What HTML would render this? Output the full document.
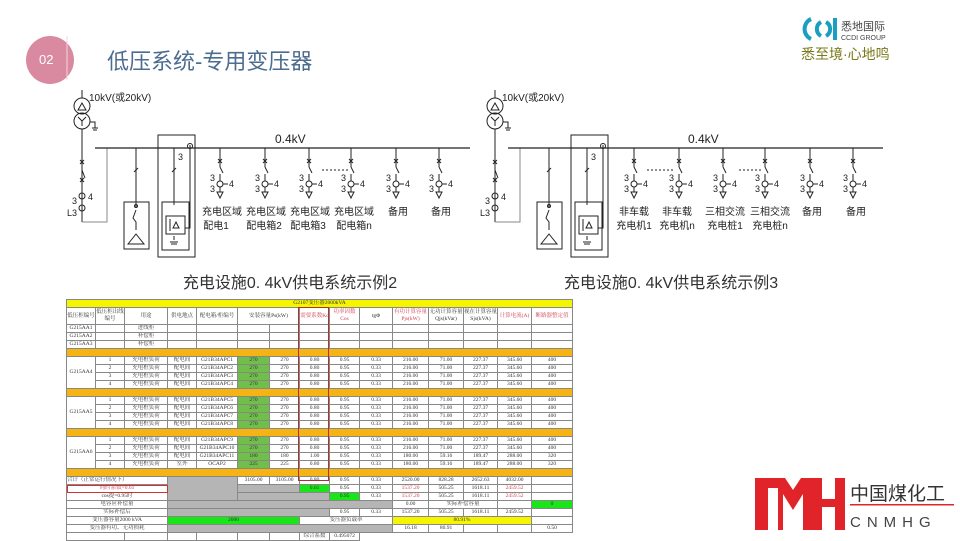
<!DOCTYPE html>
<html><head><meta charset="utf-8">
<style>
body{margin:0;width:960px;height:540px;overflow:hidden;background:#fff;position:relative;font-family:"Liberation Sans","Noto Sans CJK SC",sans-serif}
svg{position:absolute;left:0;top:0}
table{position:absolute;left:66px;top:299px;border-collapse:collapse;table-layout:fixed;font-family:"Liberation Serif","Noto Serif CJK SC",serif;font-size:5.5px;color:#333}
td{border:0.6px solid #888;height:7px;padding:0;line-height:7px;text-align:center;white-space:nowrap;overflow:hidden}
.o td{background:#f5b414;height:7px}
.g{background:#6fbf4a}
.gg{background:#19e619}
.gr{background:#b5b5b5}
.y{background:#f5f500}
.r{color:#d04050}
.hd td{height:16px;line-height:7px;white-space:normal}
</style></head><body>
<svg width="960" height="540" viewBox="0 0 960 540">
<defs>
<g id="fd" fill="none" stroke="#222" stroke-width="1">
<line x1="0" y1="0" x2="0" y2="19"/>
<path d="M-2 11l4 4M2 11l-4 4"/>
<line x1="0" y1="19" x2="3" y2="25"/>
<line x1="0" y1="26" x2="0" y2="33"/>
<circle cx="0" cy="36" r="3"/>
<line x1="0" y1="39" x2="0" y2="44"/>
<line x1="3" y1="36" x2="8" y2="36"/>
<path d="M-3 44h6l-3 6z"/>
</g>
<g id="inc" fill="none" stroke="#222" stroke-width="1">
<line x1="82" y1="90" x2="82" y2="98"/>
<circle cx="82" cy="106" r="8"/>
<path d="M78 110l4-7 4 7z"/>
<circle cx="82" cy="121" r="8"/>
<path d="M82 121l-4-4M82 121l4-4M82 121v5"/>
<path d="M90 122h5v6M92 128h6M93 130h4"/>
<line x1="82" y1="129" x2="82" y2="222"/>
<path d="M80 160l4 4M84 160l-4 4M82 170l3 8M80 178l4 4M84 178l-4 4"/>
<circle cx="82" cy="196" r="3"/><circle cx="82" cy="208" r="3"/>
<polyline points="82,222 107,222 107,148" stroke="#888"/>
<line x1="95" y1="148" x2="470" y2="148" stroke-width="1.2"/>
<line x1="136" y1="148" x2="136" y2="176"/><line x1="134" y1="172" x2="138" y2="168"/>
<line x1="136" y1="176" x2="136" y2="208"/>
<rect x="124" y="202" width="25" height="47"/>
<circle cx="136" cy="206" r="1.5"/><path d="M136 210l-3 8l3 4v8M128 244h16l-8-10z"/>
<rect x="158" y="135" width="37" height="122"/>
<rect x="162" y="202" width="27" height="48"/>
<line x1="174" y1="148" x2="174" y2="205"/><line x1="172" y1="172" x2="176" y2="168"/>
<rect x="166" y="216" width="19" height="18"/>
<path d="M170 219v12M176 222l3 6h-6zM174 236v4M170 242h8M171 244h6"/>
<polyline points="190,145 190,228 185,228"/>
<circle cx="190" cy="146" r="2.5"/>
</g>
</defs>
<!-- header -->
<circle cx="50" cy="60" r="24" fill="#d98aa0"/>
<line x1="67" y1="36" x2="67" y2="80" stroke="#f5d5de" stroke-width="1"/>
<text x="39" y="64" font-size="13" fill="#fff">02</text>
<text x="107" y="69" font-size="22" fill="#4d6d8f" font-family="Liberation Sans,'Noto Sans CJK SC',sans-serif">低压系统-专用变压器</text>
<g fill="none" stroke="#1a9ec4" stroke-width="4">
<path d="M811 19a11 11 0 0 0 0 20"/>
<path d="M821 22a8 8 0 0 0 0 14"/>
<path d="M826 22a8 8 0 0 1 0 14"/>
</g>
<rect x="833" y="18" width="4" height="22" fill="#1a9ec4"/>
<text x="841" y="30" font-size="11" fill="#444">悉地国际</text>
<text x="841" y="40" font-size="7" fill="#444">CCDI GROUP</text>
<text x="801" y="59" font-size="14" fill="#7a7a1a">悉至境·心地鸣</text>
<!-- diagrams -->
<use href="#inc"/>
<g transform="translate(413,0)"><use href="#inc"/></g>
<g font-size="10" fill="#222">
<text x="89" y="101">10kV(或20kV)</text>
<text x="502" y="101">10kV(或20kV)</text>
<text x="275" y="143" font-size="12">0.4kV</text>
<text x="688" y="143" font-size="12">0.4kV</text>
</g>
<g>
<use href="#fd" x="220" y="148"/><use href="#fd" x="265" y="148"/><use href="#fd" x="309" y="148"/><use href="#fd" x="351" y="148"/><use href="#fd" x="396" y="148"/><use href="#fd" x="439" y="148"/>
<use href="#fd" x="634" y="148"/><use href="#fd" x="679" y="148"/><use href="#fd" x="723" y="148"/><use href="#fd" x="765" y="148"/><use href="#fd" x="810" y="148"/><use href="#fd" x="853" y="148"/>
<path d="M322 170h26M647 170h28M739 170h24" stroke="#222" stroke-dasharray="2 2"/>
</g>
<g font-size="9" fill="#222">
<text x="210" y="181">3</text><text x="229" y="187">4</text><text x="210" y="192">3</text>
<text x="255" y="181">3</text><text x="274" y="187">4</text><text x="255" y="192">3</text>
<text x="299" y="181">3</text><text x="318" y="187">4</text><text x="299" y="192">3</text>
<text x="341" y="181">3</text><text x="360" y="187">4</text><text x="341" y="192">3</text>
<text x="386" y="181">3</text><text x="405" y="187">4</text><text x="386" y="192">3</text>
<text x="429" y="181">3</text><text x="448" y="187">4</text><text x="429" y="192">3</text>
<text x="624" y="181">3</text><text x="643" y="187">4</text><text x="624" y="192">3</text>
<text x="669" y="181">3</text><text x="688" y="187">4</text><text x="669" y="192">3</text>
<text x="713" y="181">3</text><text x="732" y="187">4</text><text x="713" y="192">3</text>
<text x="755" y="181">3</text><text x="774" y="187">4</text><text x="755" y="192">3</text>
<text x="800" y="181">3</text><text x="819" y="187">4</text><text x="800" y="192">3</text>
<text x="843" y="181">3</text><text x="862" y="187">4</text><text x="843" y="192">3</text>
<text x="72" y="204">3</text><text x="88" y="200">4</text><text x="67" y="216">L3</text>
<text x="485" y="204">3</text><text x="501" y="200">4</text><text x="480" y="216">L3</text>
<text x="178" y="160">3</text><text x="591" y="160">3</text>
</g>
<g font-size="10" fill="#222" text-anchor="middle">
<text x="222" y="215">充电区域</text><text x="216" y="229">配电1</text>
<text x="266" y="215">充电区域</text><text x="264" y="229">配电箱2</text>
<text x="310" y="215">充电区域</text><text x="308" y="229">配电箱3</text>
<text x="354" y="215">充电区域</text><text x="354" y="229">配电箱n</text>
<text x="398" y="215">备用</text><text x="441" y="215">备用</text>
<text x="634" y="215">非车载</text><text x="634" y="229">充电机1</text>
<text x="677" y="215">非车载</text><text x="677" y="229">充电机n</text>
<text x="725" y="215">三相交流</text><text x="725" y="229">充电桩1</text>
<text x="770" y="215">三相交流</text><text x="770" y="229">充电桩n</text>
<text x="812" y="215">备用</text><text x="856" y="215">备用</text>
</g>
<text x="290" y="288" font-size="16" fill="#333" text-anchor="middle">充电设施0. 4kV供电系统示例2</text>
<text x="671" y="288" font-size="16" fill="#333" text-anchor="middle">充电设施0. 4kV供电系统示例3</text>
<!-- CNMHG logo -->
<path d="M755 478h30l8 12l8-12h12v52h-10v-36l-10 16l-10-16v36h-28z" fill="#e0242a"/>
<rect x="768" y="488" width="10" height="42" fill="#fff"/>
<rect x="812" y="478" width="10" height="52" fill="#e0242a"/>
<rect x="835" y="478" width="10" height="52" fill="#e0242a"/>
<rect x="812" y="499" width="33" height="8" fill="#e0242a"/>
<text x="850" y="500" font-size="19" fill="#333">中国煤化工</text>
<rect x="850" y="504" width="104" height="1.5" fill="#e0242a"/>
<text x="850" y="527" font-size="15" fill="#444" letter-spacing="6">CNMHG</text>
</svg>
<table>
<colgroup><col style="width:29px"><col style="width:29px"><col style="width:43px"><col style="width:29px"><col style="width:41px"><col style="width:32px"><col style="width:30px"><col style="width:30px"><col style="width:30px"><col style="width:33px"><col style="width:36px"><col style="width:35px"><col style="width:34px"><col style="width:34px"><col style="width:41px"></colgroup>
<tr><td colspan="15" class="y">G2107变压器2000kVA</td></tr>
<tr class="hd"><td>低压柜编号</td><td>低压柜出线编号</td><td>用途</td><td>供电地点</td><td>配电箱/柜编号</td><td colspan="2">安装容量Ps(kW)</td><td class="r">需要系数Kc</td><td class="r">功率因数Cos</td><td>tgΦ</td><td class="r">有功计算容量Pjs(kW)</td><td>无功计算容量Qjs(kVar)</td><td>视在计算容量Sjs(kVA)</td><td class="r">计算电流(A)</td><td class="r">断路器整定值</td></tr>
<tr><td>G215AA1</td><td></td><td>进线柜</td><td></td><td></td><td></td><td></td><td></td><td></td><td></td><td></td><td></td><td></td><td></td><td></td></tr>
<tr><td>G215AA2</td><td></td><td>补偿柜</td><td></td><td></td><td></td><td></td><td></td><td></td><td></td><td></td><td></td><td></td><td></td><td></td></tr>
<tr><td>G215AA3</td><td></td><td>补偿柜</td><td></td><td></td><td></td><td></td><td></td><td></td><td></td><td></td><td></td><td></td><td></td><td></td></tr>
<tr class="o"><td colspan="15"></td></tr>
<tr><td rowspan="4">G215AA4</td><td>1</td><td>充电桩负荷</td><td>配电间</td><td>G21B34APC1</td><td class="g">270</td><td>270</td><td>0.80</td><td>0.95</td><td>0.33</td><td>216.00</td><td>71.00</td><td>227.37</td><td>345.60</td><td>400</td></tr>
<tr><td>2</td><td>充电桩负荷</td><td>配电间</td><td>G21B34APC2</td><td class="g">270</td><td>270</td><td>0.80</td><td>0.95</td><td>0.33</td><td>216.00</td><td>71.00</td><td>227.37</td><td>345.60</td><td>400</td></tr>
<tr><td>3</td><td>充电桩负荷</td><td>配电间</td><td>G21B34APC3</td><td class="g">270</td><td>270</td><td>0.80</td><td>0.95</td><td>0.33</td><td>216.00</td><td>71.00</td><td>227.37</td><td>345.60</td><td>400</td></tr>
<tr><td>4</td><td>充电桩负荷</td><td>配电间</td><td>G21B34APC4</td><td class="g">270</td><td>270</td><td>0.80</td><td>0.95</td><td>0.33</td><td>216.00</td><td>71.00</td><td>227.37</td><td>345.60</td><td>400</td></tr>
<tr class="o"><td colspan="15"></td></tr>
<tr><td rowspan="4">G215AA5</td><td>1</td><td>充电桩负荷</td><td>配电间</td><td>G21B34APC5</td><td class="g">270</td><td>270</td><td>0.80</td><td>0.95</td><td>0.33</td><td>216.00</td><td>71.00</td><td>227.37</td><td>345.60</td><td>400</td></tr>
<tr><td>2</td><td>充电桩负荷</td><td>配电间</td><td>G21B34APC6</td><td class="g">270</td><td>270</td><td>0.80</td><td>0.95</td><td>0.33</td><td>216.00</td><td>71.00</td><td>227.37</td><td>345.60</td><td>400</td></tr>
<tr><td>3</td><td>充电桩负荷</td><td>配电间</td><td>G21B34APC7</td><td class="g">270</td><td>270</td><td>0.80</td><td>0.95</td><td>0.33</td><td>216.00</td><td>71.00</td><td>227.37</td><td>345.60</td><td>400</td></tr>
<tr><td>4</td><td>充电桩负荷</td><td>配电间</td><td>G21B34APC8</td><td class="g">270</td><td>270</td><td>0.80</td><td>0.95</td><td>0.33</td><td>216.00</td><td>71.00</td><td>227.37</td><td>345.60</td><td>400</td></tr>
<tr class="o"><td colspan="15"></td></tr>
<tr><td rowspan="4">G215AA6</td><td>1</td><td>充电桩负荷</td><td>配电间</td><td>G21B34APC9</td><td class="g">270</td><td>270</td><td>0.80</td><td>0.95</td><td>0.33</td><td>216.00</td><td>71.00</td><td>227.37</td><td>345.60</td><td>400</td></tr>
<tr><td>2</td><td>充电桩负荷</td><td>配电间</td><td>G21B34APC10</td><td class="g">270</td><td>270</td><td>0.80</td><td>0.95</td><td>0.33</td><td>216.00</td><td>71.00</td><td>227.37</td><td>345.60</td><td>400</td></tr>
<tr><td>3</td><td>充电桩负荷</td><td>配电间</td><td>G21B34APC11</td><td class="g">180</td><td>180</td><td>1.00</td><td>0.95</td><td>0.33</td><td>180.00</td><td>59.16</td><td>189.47</td><td>288.00</td><td>320</td></tr>
<tr><td>4</td><td>充电桩负荷</td><td>室外</td><td>OCAP2</td><td class="g">225</td><td>225</td><td>0.80</td><td>0.95</td><td>0.33</td><td>180.00</td><td>59.16</td><td>189.47</td><td>288.00</td><td>320</td></tr>
<tr class="o"><td colspan="15"></td></tr>
<tr><td colspan="3" style="text-align:left">合计（正常运行情况下）</td><td class="gr" colspan="2" rowspan="3"></td><td>3105.00</td><td>3105.00</td><td>0.80</td><td>0.95</td><td>0.33</td><td>2520.00</td><td>828.28</td><td>2652.63</td><td>4032.00</td><td></td></tr>
<tr><td colspan="3" class="r" style="outline:1px solid #c33;outline-offset:-1px">同时系数=0.61</td><td class="gr" colspan="2"></td><td class="gg">0.61</td><td>0.95</td><td>0.33</td><td class="r">1537.20</td><td>505.25</td><td>1618.11</td><td class="r">2459.52</td><td></td></tr>
<tr><td colspan="3">cos提=0.95时</td><td class="gr" colspan="3"></td><td class="gg">0.95</td><td>0.33</td><td class="r">1537.20</td><td>505.25</td><td>1618.11</td><td class="r">2459.52</td><td></td></tr>
<tr><td colspan="3">电容应补偿量</td><td class="gr" colspan="7"></td><td>0.00</td><td colspan="2">实际补偿容量</td><td></td><td class="gg">0</td></tr>
<tr><td colspan="3">实际补偿后</td><td class="gr" colspan="5"></td><td>0.95</td><td>0.33</td><td>1537.20</td><td>505.25</td><td>1618.11</td><td>2459.52</td><td></td></tr>
<tr><td colspan="3">变压器容量2000 kVA</td><td class="gg" colspan="4">2000</td><td colspan="3">变压器负载率</td><td class="y" colspan="4">80.91%</td><td></td></tr>
<tr><td colspan="3">变压器有功、无功损耗</td><td class="gr" colspan="7"></td><td>16.18</td><td>80.91</td><td></td><td></td><td>0.50</td></tr>
<tr><td colspan="2"></td><td></td><td></td><td></td><td></td><td></td><td>综合系数</td><td>0.495072</td><td colspan="6" style="border:none"></td></tr>
</table>
<div style="position:absolute;left:298px;top:307px;width:31px;height:174px;border:1.5px solid #b03030;box-sizing:border-box"></div>
</body></html>
